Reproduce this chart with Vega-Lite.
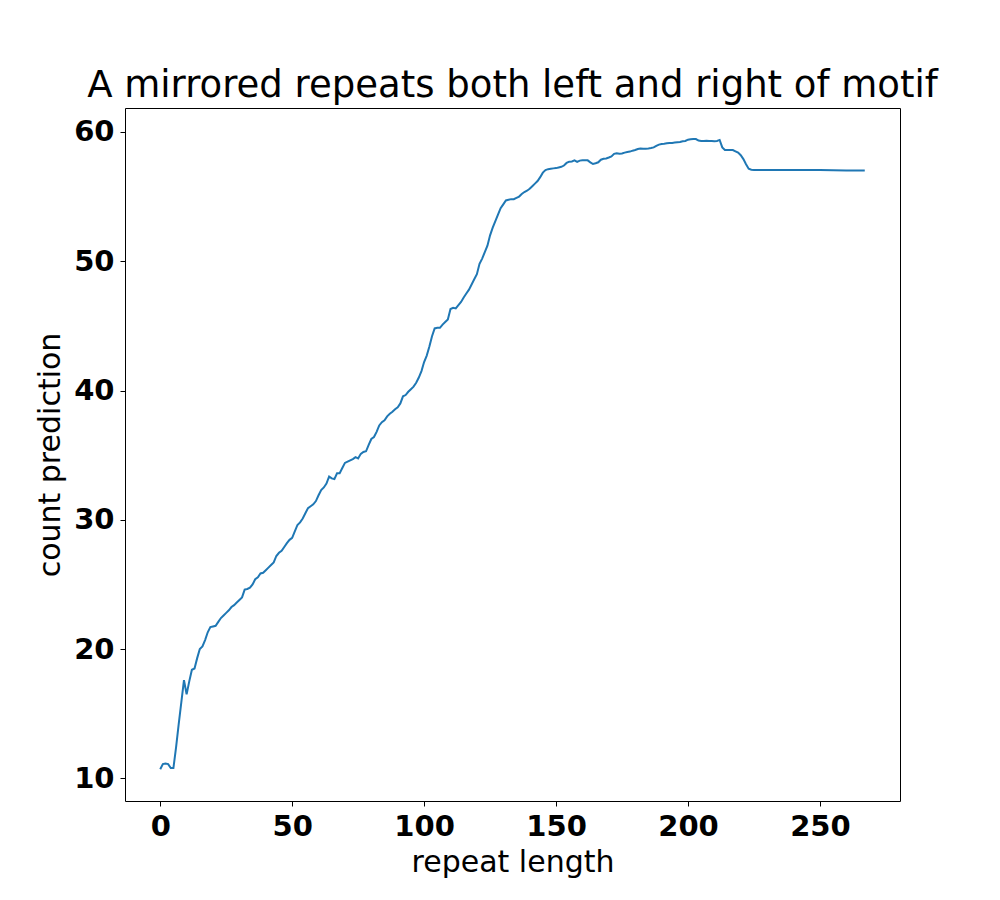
{
  "$schema": "https://vega.github.io/schema/vega-lite/v6.json",
  "width": 775,
  "height": 693,
  "autosize": "none",
  "padding": {"left": 125, "top": 108, "right": 100, "bottom": 99},
  "background": "white",
  "title": {
    "text": "A mirrored repeats both left and right of motif",
    "font": "DejaVu Sans",
    "fontSize": 37,
    "fontWeight": "normal",
    "color": "black",
    "anchor": "middle",
    "frame": "group",
    "offset": 3
  },
  "config": {
    "view": {"stroke": "black", "strokeWidth": 1},
    "axis": {
      "grid": false,
      "domain": false,
      "tickColor": "black",
      "tickSize": 5,
      "tickWidth": 1,
      "labelFont": "DejaVu Sans",
      "labelFontSize": 29,
      "labelFontWeight": "bold",
      "labelColor": "black",
      "labelPadding": 6,
      "titleFont": "DejaVu Sans",
      "titleFontSize": 30,
      "titleFontWeight": "normal",
      "titleColor": "black"
    }
  },
  "data": {
    "values": [
      {"x": 0, "y": 10.7}, {"x": 1, "y": 11.1}, {"x": 2, "y": 11.15}, {"x": 3, "y": 11.1}, {"x": 4, "y": 10.8},
      {"x": 5, "y": 10.8}, {"x": 6, "y": 12.4}, {"x": 7, "y": 14.2}, {"x": 8, "y": 15.9}, {"x": 9, "y": 17.6},
      {"x": 10, "y": 16.5}, {"x": 11, "y": 17.5}, {"x": 12, "y": 18.4}, {"x": 13, "y": 18.5}, {"x": 14, "y": 19.3},
      {"x": 15, "y": 20.0}, {"x": 16, "y": 20.2}, {"x": 17, "y": 20.7}, {"x": 18, "y": 21.3}, {"x": 19, "y": 21.7},
      {"x": 20, "y": 21.75}, {"x": 21, "y": 21.8}, {"x": 22, "y": 22.1}, {"x": 23, "y": 22.4}, {"x": 24, "y": 22.6},
      {"x": 25, "y": 22.8}, {"x": 26, "y": 23.0}, {"x": 27, "y": 23.25}, {"x": 28, "y": 23.4}, {"x": 29, "y": 23.6},
      {"x": 30, "y": 23.8}, {"x": 31, "y": 24.0}, {"x": 32, "y": 24.6}, {"x": 33, "y": 24.65}, {"x": 34, "y": 24.75},
      {"x": 35, "y": 25.0}, {"x": 36, "y": 25.4}, {"x": 37, "y": 25.55}, {"x": 38, "y": 25.85}, {"x": 39, "y": 25.9},
      {"x": 40, "y": 26.1}, {"x": 41, "y": 26.3}, {"x": 42, "y": 26.5}, {"x": 43, "y": 26.7}, {"x": 44, "y": 27.2},
      {"x": 45, "y": 27.45}, {"x": 46, "y": 27.6}, {"x": 47, "y": 27.9}, {"x": 48, "y": 28.2}, {"x": 49, "y": 28.45},
      {"x": 50, "y": 28.6}, {"x": 51, "y": 29.1}, {"x": 52, "y": 29.6}, {"x": 53, "y": 29.8}, {"x": 54, "y": 30.1},
      {"x": 55, "y": 30.5}, {"x": 56, "y": 30.9}, {"x": 57, "y": 31.05}, {"x": 58, "y": 31.2}, {"x": 59, "y": 31.45},
      {"x": 60, "y": 31.9}, {"x": 61, "y": 32.3}, {"x": 62, "y": 32.5}, {"x": 63, "y": 32.8}, {"x": 64, "y": 33.35},
      {"x": 65, "y": 33.2}, {"x": 66, "y": 33.15}, {"x": 67, "y": 33.6}, {"x": 68, "y": 33.6}, {"x": 69, "y": 34.0},
      {"x": 70, "y": 34.4}, {"x": 71, "y": 34.5}, {"x": 72, "y": 34.6}, {"x": 73, "y": 34.7}, {"x": 74, "y": 34.85},
      {"x": 75, "y": 34.75}, {"x": 76, "y": 35.1}, {"x": 77, "y": 35.25}, {"x": 78, "y": 35.3}, {"x": 79, "y": 35.8},
      {"x": 80, "y": 36.25}, {"x": 81, "y": 36.4}, {"x": 82, "y": 36.8}, {"x": 83, "y": 37.3}, {"x": 84, "y": 37.55},
      {"x": 85, "y": 37.7}, {"x": 86, "y": 38.0}, {"x": 87, "y": 38.2}, {"x": 88, "y": 38.35}, {"x": 89, "y": 38.55},
      {"x": 90, "y": 38.7}, {"x": 91, "y": 39.0}, {"x": 92, "y": 39.55}, {"x": 93, "y": 39.65}, {"x": 94, "y": 39.9},
      {"x": 95, "y": 40.1}, {"x": 96, "y": 40.3}, {"x": 97, "y": 40.6}, {"x": 98, "y": 41.0}, {"x": 99, "y": 41.5},
      {"x": 100, "y": 42.2}, {"x": 101, "y": 42.7}, {"x": 102, "y": 43.4}, {"x": 103, "y": 44.2}, {"x": 104, "y": 44.8},
      {"x": 105, "y": 44.85}, {"x": 106, "y": 44.85}, {"x": 107, "y": 45.1}, {"x": 108, "y": 45.3}, {"x": 109, "y": 45.5},
      {"x": 110, "y": 46.3}, {"x": 111, "y": 46.4}, {"x": 112, "y": 46.35}, {"x": 113, "y": 46.6}, {"x": 114, "y": 46.85},
      {"x": 115, "y": 47.2}, {"x": 116, "y": 47.5}, {"x": 117, "y": 47.8}, {"x": 118, "y": 48.2}, {"x": 119, "y": 48.6},
      {"x": 120, "y": 49.0}, {"x": 121, "y": 49.8}, {"x": 122, "y": 50.2}, {"x": 123, "y": 50.7}, {"x": 124, "y": 51.2},
      {"x": 125, "y": 52.0}, {"x": 126, "y": 52.6}, {"x": 127, "y": 53.1}, {"x": 128, "y": 53.6}, {"x": 129, "y": 54.1},
      {"x": 130, "y": 54.4}, {"x": 131, "y": 54.7}, {"x": 132, "y": 54.75}, {"x": 133, "y": 54.8}, {"x": 134, "y": 54.8},
      {"x": 135, "y": 54.9}, {"x": 136, "y": 55.0}, {"x": 137, "y": 55.2}, {"x": 138, "y": 55.35}, {"x": 139, "y": 55.45},
      {"x": 140, "y": 55.6}, {"x": 141, "y": 55.8}, {"x": 142, "y": 56.0}, {"x": 143, "y": 56.2}, {"x": 144, "y": 56.5},
      {"x": 145, "y": 56.85}, {"x": 146, "y": 57.05}, {"x": 147, "y": 57.12}, {"x": 148, "y": 57.15}, {"x": 149, "y": 57.18},
      {"x": 150, "y": 57.2}, {"x": 151, "y": 57.25}, {"x": 152, "y": 57.3}, {"x": 153, "y": 57.4}, {"x": 154, "y": 57.6},
      {"x": 155, "y": 57.7}, {"x": 156, "y": 57.72}, {"x": 157, "y": 57.8}, {"x": 158, "y": 57.68}, {"x": 159, "y": 57.78},
      {"x": 160, "y": 57.8}, {"x": 161, "y": 57.8}, {"x": 162, "y": 57.8}, {"x": 163, "y": 57.65}, {"x": 164, "y": 57.52},
      {"x": 165, "y": 57.58}, {"x": 166, "y": 57.65}, {"x": 167, "y": 57.85}, {"x": 168, "y": 57.92}, {"x": 169, "y": 57.95},
      {"x": 170, "y": 58.02}, {"x": 171, "y": 58.1}, {"x": 172, "y": 58.3}, {"x": 173, "y": 58.35}, {"x": 174, "y": 58.32},
      {"x": 175, "y": 58.33}, {"x": 176, "y": 58.4}, {"x": 177, "y": 58.45}, {"x": 178, "y": 58.48}, {"x": 179, "y": 58.55},
      {"x": 180, "y": 58.6}, {"x": 181, "y": 58.68}, {"x": 182, "y": 58.72}, {"x": 183, "y": 58.7}, {"x": 184, "y": 58.7},
      {"x": 185, "y": 58.72}, {"x": 186, "y": 58.75}, {"x": 187, "y": 58.8}, {"x": 188, "y": 58.92}, {"x": 189, "y": 59.02},
      {"x": 190, "y": 59.07}, {"x": 191, "y": 59.08}, {"x": 192, "y": 59.12}, {"x": 193, "y": 59.15}, {"x": 194, "y": 59.15},
      {"x": 195, "y": 59.18}, {"x": 196, "y": 59.2}, {"x": 197, "y": 59.22}, {"x": 198, "y": 59.28}, {"x": 199, "y": 59.3},
      {"x": 200, "y": 59.4}, {"x": 201, "y": 59.44}, {"x": 202, "y": 59.46}, {"x": 203, "y": 59.45}, {"x": 204, "y": 59.33},
      {"x": 205, "y": 59.3}, {"x": 206, "y": 59.3}, {"x": 207, "y": 59.32}, {"x": 208, "y": 59.3}, {"x": 209, "y": 59.3},
      {"x": 210, "y": 59.28}, {"x": 211, "y": 59.3}, {"x": 212, "y": 59.38}, {"x": 213, "y": 58.8}, {"x": 214, "y": 58.6},
      {"x": 215, "y": 58.6}, {"x": 216, "y": 58.6}, {"x": 217, "y": 58.6}, {"x": 218, "y": 58.5}, {"x": 219, "y": 58.4},
      {"x": 220, "y": 58.2}, {"x": 221, "y": 57.9}, {"x": 222, "y": 57.5}, {"x": 223, "y": 57.15}, {"x": 224, "y": 57.07},
      {"x": 225, "y": 57.06}, {"x": 230, "y": 57.06}, {"x": 235, "y": 57.06}, {"x": 240, "y": 57.06}, {"x": 245, "y": 57.05},
      {"x": 250, "y": 57.05}, {"x": 255, "y": 57.03}, {"x": 260, "y": 57.02}, {"x": 267, "y": 57.01}
    ]
  },
  "mark": {"type": "line", "color": "#1f77b4", "strokeWidth": 2, "clip": true},
  "encoding": {
    "x": {
      "field": "x",
      "type": "quantitative",
      "title": "repeat length",
      "scale": {"domain": [-13.35, 280.35], "nice": false, "zero": false},
      "axis": {"values": [0, 50, 100, 150, 200, 250], "titlePadding": 6}
    },
    "y": {
      "field": "y",
      "type": "quantitative",
      "title": "count prediction",
      "scale": {"domain": [8.25, 61.85], "nice": false, "zero": false},
      "axis": {"values": [10, 20, 30, 40, 50, 60], "titlePadding": 8}
    }
  }
}
